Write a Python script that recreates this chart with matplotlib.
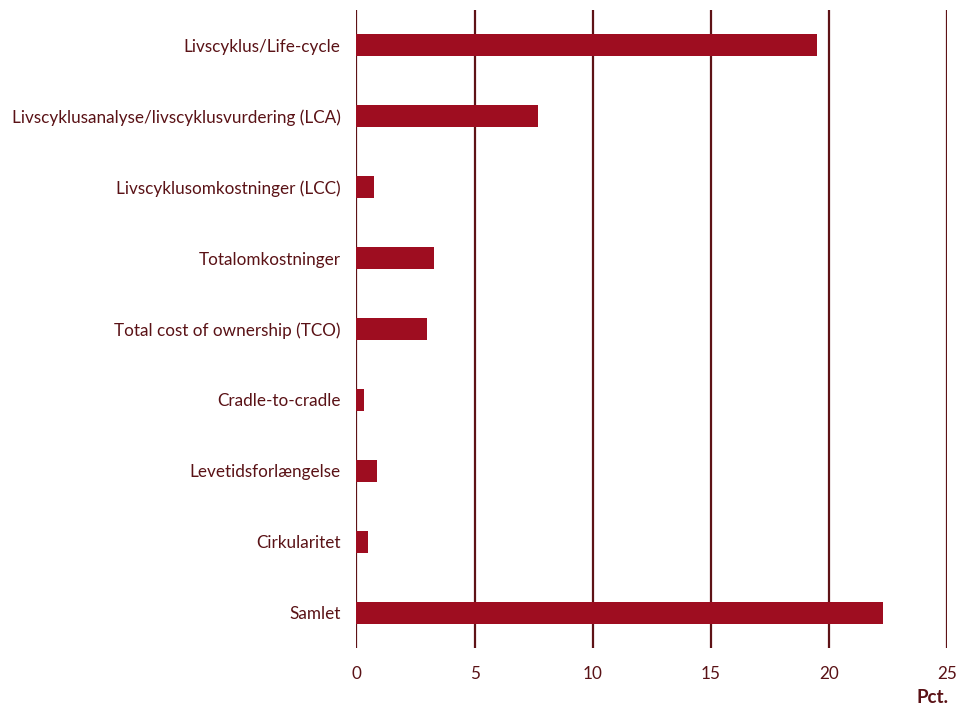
import matplotlib.pyplot as plt
import numpy as np

plt.rcParams['font.family'] = ['Lato', 'DejaVu Sans']

# data
categories = ['Livscyklus/Life-cycle',
              'Livscyklusanalyse/livscyklusvurdering (LCA)',
              'Livscyklusomkostninger (LCC)',
              'Totalomkostninger',
              'Total cost of ownership (TCO)',
              'Cradle-to-cradle',
              'Levetidsforlængelse',
              'Cirkularitet',
              'Samlet']
values = [19.5, 7.7, 0.75, 3.3, 3.0, 0.33, 0.87, 0.5, 22.3]
xticks = [0, 5, 10, 15, 20, 25]

bar_color = '#9E0D20'
line_color = '#5E1216'
text_color = '#5A1216'

fig = plt.figure(figsize=(9.7, 7.08), dpi=100)
ax = fig.add_axes([0.3675, 0.0847, 0.6088, 0.9012])

y = np.arange(len(categories))
ax.barh(y, values, height=0.31, color=bar_color, zorder=3)

ax.set_ylim(len(categories) - 0.5, -0.5)
ax.set_xlim(0, 25)
ax.set_yticks(y)
ax.set_yticklabels(categories, fontsize=12.3, color=text_color)
ax.set_xticks(xticks)
ax.set_xticklabels([str(t) for t in xticks], fontsize=12.3, color=text_color)
ax.tick_params(axis='both', length=0)
ax.tick_params(axis='y', pad=11.5)
ax.tick_params(axis='x', pad=13)

for t in xticks:
    ax.axvline(t, color=line_color, linewidth=1.6, zorder=2)

for s in ax.spines.values():
    s.set_visible(False)

fig.text(0.978, 0.003, 'Pct.', ha='right', va='bottom', fontsize=13.5,
         fontweight='bold', color=text_color)

plt.savefig('out.png', dpi=100)
plt.close(fig)
